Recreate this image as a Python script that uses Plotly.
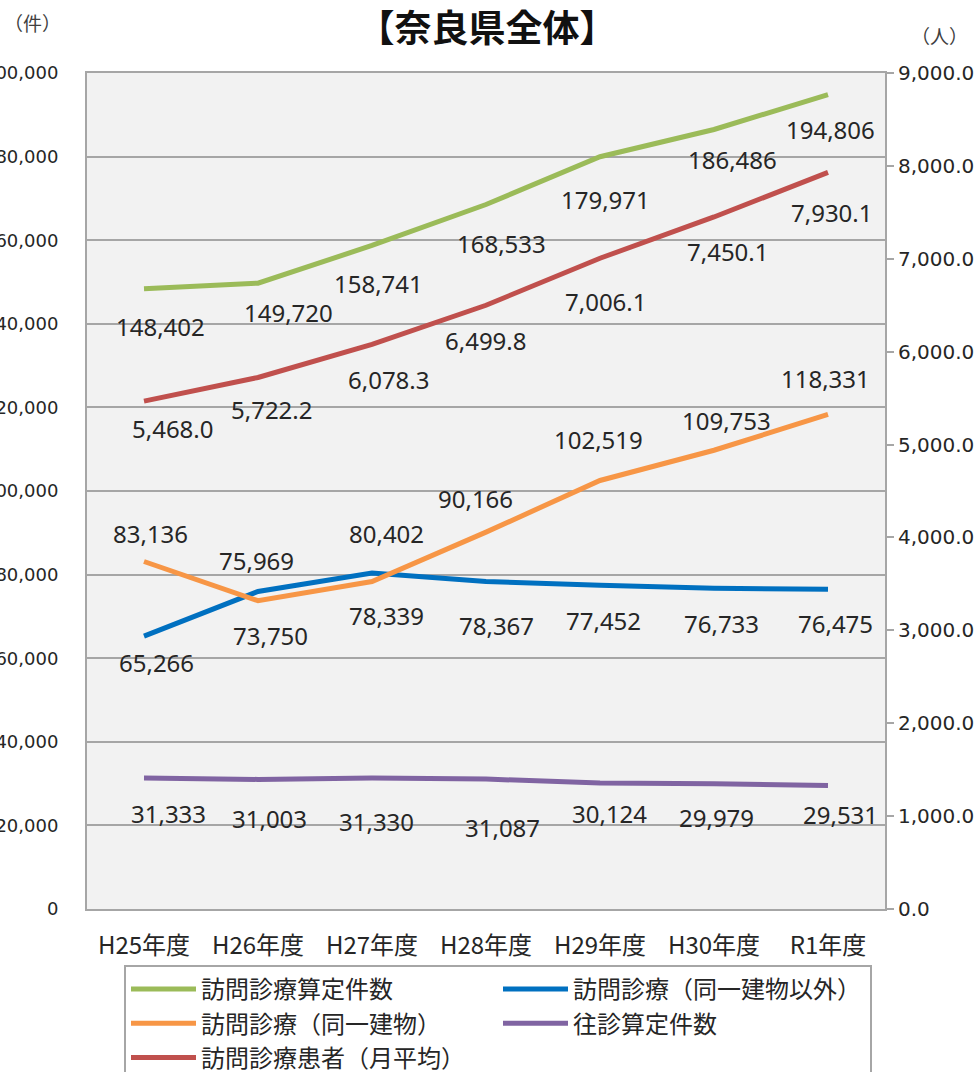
import plotly.graph_objects as go

# ---- data ----
categories = ["H25年度", "H26年度", "H27年度", "H28年度", "H29年度", "H30年度", "R1年度"]
houmon_total = [148402, 149720, 158741, 168533, 179971, 186486, 194806]      # 訪問診療算定件数
houmon_other = [65266, 75969, 80402, 78367, 77452, 76733, 76475]             # 訪問診療（同一建物以外）
houmon_same = [83136, 73750, 78339, 90166, 102519, 109753, 118331]           # 訪問診療（同一建物）
oushin = [31333, 31003, 31330, 31087, 30124, 29979, 29531]                   # 往診算定件数
patients = [5468.0, 5722.2, 6078.3, 6499.8, 7006.1, 7450.1, 7930.1]          # 訪問診療患者（月平均）

# ---- label placement tweaks (pixels: dx right, dy down) ----
off_total = ([16, 30, 6, 15, 5, 18, 2], [38, 29, 38, 39, 43, 30, 35])
off_other = ([12, -2, 14, 10, 3, 7, 7], [26, -31, -39, 44, 35, 35, 34])
off_same = ([6, 12, 14, -11, -2, 12, -3], [-28, 35, 34, -34, -41, -30, -36])
off_oushin = ([24, 11, 4, 16, 9, 2, 12], [35, 39, 43, 48, 30, 34, 29])
off_pat = ([29, 14, 17, 0, 6, 14, 4], [27, 32, 35, 35, 43, 35, 40])

GREEN, BLUE, ORANGE, PURPLE, RED = "#9BBB59", "#0070C0", "#F79646", "#8064A2", "#C0504D"
GRID = "#A6A6A6"
TXT = "#262626"
JP = "Noto Sans CJK JP"

fig = go.Figure()
series = [
    ("訪問診療算定件数", houmon_total, GREEN, "y"),
    ("訪問診療（同一建物以外）", houmon_other, BLUE, "y"),
    ("訪問診療（同一建物）", houmon_same, ORANGE, "y"),
    ("往診算定件数", oushin, PURPLE, "y"),
    ("訪問診療患者（月平均）", patients, RED, "y2"),
]
for name, vals, col, ax in series:
    fig.add_trace(go.Scatter(
        x=categories, y=vals, name=name, mode="lines",
        line=dict(color=col, width=5), yaxis=ax, hoverinfo="skip",
    ))

def add_labels(vals, offs, yref, fmt):
    dxs, dys = offs
    for c, v, dx, dy in zip(categories, vals, dxs, dys):
        fig.add_annotation(
            x=c, y=v, xref="x", yref=yref, text=fmt(v), showarrow=False,
            xshift=dx, yshift=-dy, xanchor="center", yanchor="middle",
            font=dict(family="Noto Sans", size=24, color=TXT),
        )

add_labels(houmon_total, off_total, "y", lambda v: f"{v:,}")
add_labels(houmon_other, off_other, "y", lambda v: f"{v:,}")
add_labels(houmon_same, off_same, "y", lambda v: f"{v:,}")
add_labels(oushin, off_oushin, "y", lambda v: f"{v:,}")
add_labels(patients, off_pat, "y2", lambda v: f"{v:,.1f}")

# unit labels
fig.add_annotation(text="（件）", xref="paper", yref="paper", x=-0.068, y=1.06,
                   showarrow=False, xanchor="center", yanchor="middle",
                   font=dict(family=JP, size=19, color="#404040"))
fig.add_annotation(text="（人）", xref="paper", yref="paper", x=1.068, y=1.045,
                   showarrow=False, xanchor="center", yanchor="middle",
                   font=dict(family=JP, size=19, color="#404040"))

fig.update_layout(
    width=980, height=1072,
    margin=dict(l=87, r=95, t=73, b=163, autoexpand=False),
    paper_bgcolor="white", plot_bgcolor="#F2F2F2",
    title=dict(text="<b>【奈良県全体】</b>", x=0.497, xref="container", xanchor="center",
               y=1 - 29 / 1072, yref="container", yanchor="middle",
               font=dict(family=JP, size=37, color="#111111")),
    xaxis=dict(
        type="category", range=[-0.5, 6.5], showgrid=False,
        showline=True, linecolor=GRID, linewidth=2, mirror=True,
        ticks="", ticklabelstandoff=14,
        tickfont=dict(family=JP, size=24, color=TXT), automargin=False,
    ),
    yaxis=dict(
        range=[0, 200000], dtick=20000, tickformat=",",
        showgrid=True, gridcolor=GRID, gridwidth=2,
        showline=True, linecolor=GRID, linewidth=2,
        zeroline=False, ticks="", ticklabelstandoff=23,
        tickfont=dict(family="DejaVu Sans", size=18, color=TXT), automargin=False,
    ),
    yaxis2=dict(
        range=[0, 9000], dtick=1000, tickformat=",.1f", overlaying="y", side="right",
        showgrid=False, showline=True, linecolor=GRID, linewidth=2, zeroline=False,
        ticks="outside", ticklen=7, tickcolor=GRID, tickwidth=1.5,
        tickfont=dict(family="DejaVu Sans", size=20, color=TXT), automargin=False,
    ),
    legend=dict(
        orientation="h", x=(124 - 87) / 798, y=(909 - 965) / 836,
        xanchor="left", yanchor="top", xref="paper", yref="paper",
        entrywidth=292, entrywidthmode="pixels", itemwidth=65,
        bordercolor=GRID, borderwidth=2, bgcolor="white",
        font=dict(family=JP, size=24, color=TXT), traceorder="normal",
    ),
    showlegend=True,
)

fig.write_html("out.html", config={"displayModeBar": False},
               post_script="document.body.style.margin='0';")
